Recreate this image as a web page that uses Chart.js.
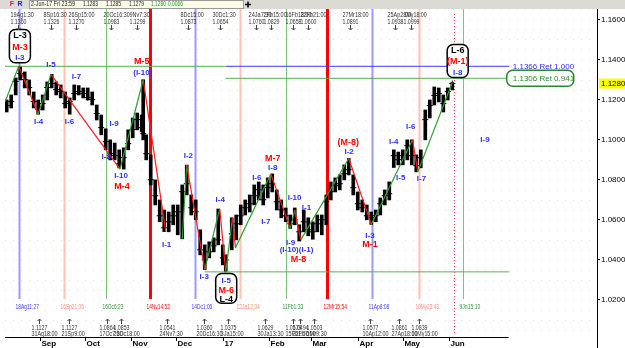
<!DOCTYPE html>
<html>
<head>
<meta charset="utf-8">
<script src="https://cdn.jsdelivr.net/npm/chart.js@4"></script>
<style>
  html, body { margin: 0; padding: 0; background: #fff; }
  #wrap { width: 625px; height: 348px; }
</style>
</head>
<body>
<div id="wrap"><canvas id="eurChart" width="625" height="348"></canvas></div>
<script>
// x values are days counted from 1 Aug 2016
var barDays = [9,12,15,18,21,24,27,30,33,36,
  39,42,45,48,51,54,57,60,63,66,
  69,72,75,78,81,84,87,90,93,96,
  99,100,102,105,108,111,114,117,120,123,
  126,129,132,135,138,141,144,147,150,153,
  155,159,162,165,168,171,174,177,180,183,
  186,189,192,195,198,201,204,207,210,213,
  216,219,222,225,228,231,234,237,240,243,
  246,249,252,255,258,261,264,267,270,273,
  276,279,282,285,288,291,294,297,300,303,
  306];
var barHigh = [1.1198,1.1223,1.1308,1.1366,1.1338,1.1298,1.1238,1.1198,1.1223,1.1288,
  1.1326,1.1288,1.1273,1.1238,1.1208,1.1273,1.1270,1.1258,1.1258,1.1238,
  1.1173,1.1123,1.1054,1.0999,1.0983,1.0949,1.0959,1.1049,1.1108,1.1133,
  1.1123,1.1299,1.1024,1.0924,1.0799,1.0699,1.0649,1.0639,1.0674,1.0674,
  1.0774,1.0873,1.0724,1.0699,1.0550,1.0475,1.0490,1.0510,1.0654,1.0475,
  1.0425,1.0610,1.0624,1.0674,1.0699,1.0724,1.0774,1.0789,1.0774,1.0809,
  1.0829,1.0749,1.0699,1.0659,1.0624,1.0659,1.0575,1.0649,1.0610,1.0590,
  1.0624,1.0624,1.0724,1.0789,1.0809,1.0824,1.0874,1.0906,1.0824,1.0739,
  1.0699,1.0674,1.0639,1.0649,1.0709,1.0749,1.0789,1.0949,1.0938,1.0949,
  1.0999,1.0999,1.0924,1.0949,1.1148,1.1198,1.1263,1.1258,1.1223,1.1258,
  1.1285];
var barLow = [1.1138,1.1158,1.1223,1.1298,1.1258,1.1223,1.1158,1.1127,1.1148,1.1198,
  1.1258,1.1223,1.1208,1.1158,1.1127,1.1198,1.1223,1.1208,1.1198,1.1173,
  1.1098,1.1024,1.0949,1.0899,1.0899,1.0859,1.0853,1.0949,1.1009,1.1049,
  1.1039,1.0999,1.0899,1.0774,1.0674,1.0590,1.0541,1.0540,1.0575,1.0525,
  1.0505,1.0724,1.0624,1.0600,1.0425,1.0352,1.0410,1.0440,1.0475,1.0375,
  1.0340,1.0450,1.0500,1.0575,1.0624,1.0639,1.0674,1.0699,1.0674,1.0709,
  1.0739,1.0649,1.0610,1.0590,1.0557,1.0575,1.0494,1.0540,1.0520,1.0503,
  1.0540,1.0525,1.0575,1.0699,1.0739,1.0749,1.0799,1.0824,1.0724,1.0649,
  1.0639,1.0600,1.0577,1.0590,1.0624,1.0674,1.0699,1.0861,1.0874,1.0874,
  1.0899,1.0874,1.0839,1.0859,1.0999,1.1108,1.1173,1.1188,1.1138,1.1198,
  1.1248];
var barClose = [1.1170,1.1190,1.1290,1.1330,1.1300,1.1260,1.1190,1.1150,1.1180,1.1260,
  1.1280,1.1250,1.1240,1.1180,1.1190,1.1230,1.1240,1.1230,1.1210,1.1200,
  1.1130,1.1060,1.0990,1.0930,1.0920,1.0880,1.0910,1.0980,1.1050,1.1100,
  1.1060,1.1030,1.0930,1.0800,1.0720,1.0620,1.0560,1.0590,1.0620,1.0640,
  1.0740,1.0780,1.0660,1.0640,1.0450,1.0400,1.0440,1.0470,1.0500,1.0410,
  1.0400,1.0530,1.0580,1.0620,1.0660,1.0680,1.0720,1.0750,1.0700,1.0760,
  1.0780,1.0690,1.0650,1.0620,1.0580,1.0600,1.0540,1.0590,1.0550,1.0540,
  1.0580,1.0600,1.0690,1.0740,1.0770,1.0780,1.0830,1.0850,1.0760,1.0680,
  1.0660,1.0620,1.0610,1.0620,1.0680,1.0720,1.0730,1.0920,1.0900,1.0920,
  1.0970,1.0920,1.0870,1.0910,1.1100,1.1170,1.1220,1.1230,1.1180,1.1240,
  1.1280];

// wave pivots (null = break in the line)
var waveDays = [8,17,30,38.5,84.5,100,115,120,126,129,141,151,155,159.5,161.5,185,198,201,205,237,252,279.5,283,306];
var wavePrices = [1.1190,1.1366,1.1127,1.1326,1.0853,1.1299,1.0541,null,1.0505,1.0873,1.0352,1.0654,1.0340,1.0610,1.0460,1.0829,1.0557,1.0649,1.0500,1.0906,1.0577,1.0999,1.0839,1.1285];

// horizontal levels
var levelPrices = [1.1366, 1.1366, 1.1306, 1.0340];
var levelFrom = [7.87, 155, 155, 141];
var levelTo = [155, 344, 342, 344];
var retTexts = ['1.1366 Ret 1.000', '1.1306 Ret 0.941'];
var retPrices = [1.1366, 1.1306];

// time markers
var markerDays = [17.1, 47.5, 75.3, 104.4, 134.8, 164.5, 194.9, 222.7, 252.7, 283.5, 313.2];
var markerLabels = ['18Ag11:27','16Sp21:05','16Oc6:23','14Nv14:52','14Dc1:06','12Ja12:34','11Fb1:33','12Mr15:54','11Ap8:08','10My23:43','9Jn15:10'];
var lastBarDay = 307.3;

// axis
var monthDays = [31,61,92,122,153,184,212,243,273,304];
var monthLabels = ['Sep','Oct','Nov','Dec','17','Feb','Mar','Apr','May','Jun'];
var priceTicks = [1.16,1.14,1.12,1.10,1.08,1.06,1.04,1.02];
var lastPrice = 1.1280;

// high / low notes
var topDays = [16.8,38.6,55.5,78.6,95.8,130.1,151.3,175.1,185,199.5,209.5,237.9,267.6,278.2];
var topTimes = ['19Ag1:30','8Sp16:30','26Sp15:00','20Oc16:30','9Nv7:30','8Dc15:00','30Dc1:30','24Ja7:30','2Fb15:00','16Fb18:00','22Fb21:00','27Mr18:00','25Ap2:00','8My18:00'];
var topPrices = ['1.1360','1.1326','1.1270','1.0983','1.1299','1.0873','1.0654','1.0760','1.0829','1.0658','1.0600','1.0891','1.0938','1.0999'];
var botDays = [30.3,50.8,75.9,85.2,115.6,140.7,156.6,181,199.5,204.8,214,251,270.3,283.5];
var botTimes = ['31Ag18:00','21Sp9:00','17Oc7:30','26Oc18:00','24Nv7:30','20Dc16:30','3Ja15:00','30Ja13:30','15Fb1:00','22Fb7:00','1Mr9:30','10Ap12:00','27Ap18:00','10My15:00'];
var botPrices = ['1.1127','1.1127','1.0864','1.0853','1.0541','1.0360','1.0375','1.0629','1.0579','1.0494','1.0503','1.0577','1.0861','1.0839'];

// wave labels
var labelTexts = ['L-3','M-3','I-3','I-5','I-4','I-6','I-7','I-9','I-8','I-10','M-4','M-5','(I-10)','I-2','I-1','I-3',
  'I-5','M-6','L-4','I-4','M-7','I-8','I-6','I-7','I-10','I-9','(I-10)(I-1)','M-8','I-1','(M-8)','I-2','I-3','M-1',
  'I-4','I-5','I-6','I-7','L-6','(M-1)','I-8','I-9'];
var labelDays = [17.8,17.8,17.8,38.5,30.3,50.8,55.5,80.6,75.3,85.2,85.9,99.0,99.7,130.1,115.6,140.7,
  155.3,155.3,155.3,151.3,186.3,186.3,175.7,181.7,200.9,198.2,202.2,203.5,208.8,236.6,237.2,251.1,251.1,
  267.0,271.6,278.3,285.5,309.6,309.6,309.6,327.8];
var labelPrices = [1.1518,1.1458,1.1408,1.1373,1.1088,1.1088,1.1313,1.1078,1.0913,1.0818,1.0768,1.1388,1.1333,1.0918,1.0475,1.0315,
  1.0295,1.0247,1.0202,1.0699,1.0908,1.0859,1.0809,1.0590,1.0709,1.0485,1.0450,1.0400,1.0660,1.0984,1.0939,1.0520,1.0475,
  1.0989,1.0809,1.1064,1.0804,1.1443,1.1388,1.1333,1.0998];

// rounded boxes around the L groups
var boxDays = [17.8, 155.3, 309.6];
var boxTop = [1.1550, 1.0332, 1.1475];
var boxBottom = [1.1384, 1.0183, 1.1310];

var markerColors = ['#9a9aff', '#ffc2b4', '#7cc27c', '#ff0000'];
var markerText = ['#3c3cff', '#ff8c78', '#2f932f', '#ff0000'];
var markerWidths = [2, 2, 1, 3];

function kindColor(t) {
  if (t.indexOf('L') === 0) return '#000000';
  if (t.indexOf('M') >= 0) return '#ff0000';
  return '#3030ff';
}

function txt(ctx, s, x, y, font, color, align, maxW) {
  ctx.font = font;
  ctx.fillStyle = color;
  ctx.textAlign = align || 'left';
  ctx.textBaseline = 'middle';
  if (maxW) ctx.fillText(s, x, y, maxW); else ctx.fillText(s, x, y);
}

function rrect(ctx, x, y, w, h, r) {
  ctx.beginPath();
  ctx.moveTo(x + r, y);
  ctx.arcTo(x + w, y, x + w, y + h, r);
  ctx.arcTo(x + w, y + h, x, y + h, r);
  ctx.arcTo(x, y + h, x, y, r);
  ctx.arcTo(x, y, x + w, y, r);
  ctx.closePath();
}

var overlay = {
  id: 'overlay',
  beforeDatasetsDraw: function(chart) {
    var ctx = chart.ctx, a = chart.chartArea, xs = chart.scales.x, ys = chart.scales.y;
    ctx.save();
    // faint dotted background
    ctx.strokeStyle = '#e2e2e2';
    ctx.lineWidth = 1;
    ctx.setLineDash([1, 7]);
    for (var p = 1.005; p < 1.165; p += 0.005) {
      var py = Math.round(ys.getPixelForValue(p)) + 0.5;
      ctx.beginPath(); ctx.moveTo(a.left, py); ctx.lineTo(a.right, py); ctx.stroke();
    }
    ctx.setLineDash([]);

    // vertical time markers
    markerDays.forEach(function(d, i) {
      var k = i % 4;
      var px = Math.round(xs.getPixelForValue(d)) + 0.5;
      ctx.strokeStyle = markerColors[k];
      ctx.lineWidth = markerWidths[k];
      ctx.beginPath(); ctx.moveTo(px, a.top); ctx.lineTo(px, a.bottom - 38); ctx.stroke();
      txt(ctx, markerLabels[i], px - 4, a.bottom - 30, '8px "Liberation Sans"', markerText[k], 'left', markerLabels[i].length * 2.6);
    });

    // dotted line at the last bar
    var lx = Math.round(xs.getPixelForValue(lastBarDay)) + 0.5;
    ctx.strokeStyle = '#ff4040';
    ctx.lineWidth = 1;
    ctx.setLineDash([1, 2]);
    ctx.beginPath(); ctx.moveTo(lx, a.top + 5); ctx.lineTo(lx, a.bottom - 4); ctx.stroke();
    ctx.setLineDash([]);
    ctx.restore();
  },
  afterDatasetsDraw: function(chart) {
    var ctx = chart.ctx, a = chart.chartArea, xs = chart.scales.x, ys = chart.scales.y;
    ctx.save();

    // boxes
    ctx.strokeStyle = '#000';
    ctx.lineWidth = 1.5;
    boxDays.forEach(function(d, i) {
      var cx = xs.getPixelForValue(d);
      var t = ys.getPixelForValue(boxTop[i]), b = ys.getPixelForValue(boxBottom[i]);
      ctx.fillStyle = '#fff';
      rrect(ctx, cx - 10.5, t, 21, b - t, 6);
      ctx.fill(); ctx.stroke();
    });

    // wave labels
    labelTexts.forEach(function(s, i) {
      var c = kindColor(s);
      var f = c === '#3030ff' ? 'bold 8px "Liberation Sans"' : 'bold 9px "Liberation Sans"';
      txt(ctx, s, xs.getPixelForValue(labelDays[i]), ys.getPixelForValue(labelPrices[i]), f, c, 'center');
    });

    // retracement labels
    var rx = xs.getPixelForValue(346.3);
    txt(ctx, retTexts[0], rx, ys.getPixelForValue(retPrices[0]), '8px "Liberation Sans"', '#2d2dff', 'left');
    var gy = ys.getPixelForValue(retPrices[1]);
    txt(ctx, retTexts[1], rx, gy, '8px "Liberation Sans"', '#2a8a2a', 'left');
    ctx.strokeStyle = '#2a8a2a';
    ctx.lineWidth = 1.5;
    rrect(ctx, rx - 6, gy - 8, 67, 16, 6);
    ctx.stroke();

    // high notes along the top
    ctx.strokeStyle = '#444';
    ctx.lineWidth = 1;
    topDays.forEach(function(d, i) {
      var px = Math.round(xs.getPixelForValue(d)) + 0.5;
      txt(ctx, topTimes[i], px - 8, 15, '7px "Liberation Sans"', '#333', 'left', topTimes[i].length * 2.9);
      txt(ctx, topPrices[i], px, 22, '7px "Liberation Sans"', '#333', 'center', 16);
      ctx.beginPath(); ctx.moveTo(px, 25); ctx.lineTo(px, 30);
      ctx.moveTo(px - 2, 28); ctx.lineTo(px, 30); ctx.lineTo(px + 2, 28); ctx.stroke();
    });
    // low notes along the bottom
    botDays.forEach(function(d, i) {
      var px = Math.round(xs.getPixelForValue(d)) + 0.5;
      ctx.beginPath(); ctx.moveTo(px, 324); ctx.lineTo(px, 319);
      ctx.moveTo(px - 2, 321); ctx.lineTo(px, 319); ctx.lineTo(px + 2, 321); ctx.stroke();
      txt(ctx, botPrices[i], px, 328, '7px "Liberation Sans"', '#333', 'center', 16);
      txt(ctx, botTimes[i], px - 8, 334, '7px "Liberation Sans"', '#333', 'left', botTimes[i].length * 2.9);
    });

    // bottom time axis
    var ax = xs.getPixelForValue(343.5);
    ctx.strokeStyle = '#000';
    ctx.lineWidth = 1;
    ctx.beginPath(); ctx.moveTo(a.left, a.bottom + 0.5); ctx.lineTo(ax, a.bottom + 0.5); ctx.stroke();
    monthDays.forEach(function(d, i) {
      var px = Math.round(xs.getPixelForValue(d)) + 0.5;
      ctx.beginPath(); ctx.moveTo(px, a.bottom); ctx.lineTo(px, a.bottom + 4); ctx.stroke();
      txt(ctx, monthLabels[i], px + 1, a.bottom + 7, 'bold 8px "Liberation Sans"', '#000', 'left');
    });
    // right axis line to the bottom edge
    ctx.beginPath(); ctx.moveTo(a.right + 0.5, 0); ctx.lineTo(a.right + 0.5, chart.height); ctx.stroke();

    // current price tag
    var cy = ys.getPixelForValue(lastPrice);
    ctx.fillStyle = '#ffff00';
    ctx.fillRect(a.right + 2, cy - 5, 26, 10);
    txt(ctx, lastPrice.toFixed(4), a.right + 4, cy, '8px "Liberation Sans"', '#000', 'left');

    // header strip
    ctx.fillStyle = '#dcdad5';
    ctx.fillRect(0, 0, chart.width, 9);
    txt(ctx, 'F', 12, 4.5, 'bold 7px "Liberation Sans"', '#e02020', 'center');
    txt(ctx, 'R', 20, 4.5, 'bold 7px "Liberation Sans"', '#2020c0', 'center');
    ctx.fillStyle = '#fbfbe8';
    ctx.fillRect(29, 1, 214, 7);
    ctx.strokeStyle = '#9a9a9a';
    ctx.strokeRect(29.5, 0.5, 214, 8);
    txt(ctx, '2-Jun-17 Fri 23:59', 31, 4.5, '6.5px "Liberation Sans"', '#222', 'left', 44);
    txt(ctx, '1.1283', 83, 4.5, '6.5px "Liberation Sans"', '#222', 'left', 15);
    txt(ctx, '1.1285', 106, 4.5, '6.5px "Liberation Sans"', '#222', 'left', 15);
    txt(ctx, '1.1279', 129, 4.5, '6.5px "Liberation Sans"', '#222', 'left', 15);
    txt(ctx, '1.1280', 151, 4.5, '6.5px "Liberation Sans"', '#2a9a2a', 'left', 15);
    txt(ctx, '0.0066', 168, 4.5, '6.5px "Liberation Sans"', '#2a9a2a', 'left', 15);
    ctx.strokeStyle = '#000';
    ctx.lineWidth = 1.5;
    ctx.beginPath(); ctx.moveTo(245, 4.5); ctx.lineTo(251, 4.5); ctx.moveTo(248, 1.5); ctx.lineTo(248, 7.5); ctx.stroke();
    ctx.restore();
  }
};

var wavePoints = waveDays.map(function(d, i) { return { x: d, y: wavePrices[i] }; });
var levelColors = ['#5aaa5a', '#3a3aff', '#5aaa5a', '#5aaa5a'];
var levelSets = levelPrices.map(function(p, i) {
  return {
    type: 'line',
    data: [{ x: levelFrom[i], y: p }, { x: levelTo[i], y: p }],
    borderColor: levelColors[i],
    borderWidth: 1,
    pointRadius: 0,
    order: 1
  };
});

var ctx = document.getElementById('eurChart').getContext('2d');
var eurChart = new Chart(ctx, {
  type: 'bar',
  data: {
    datasets: [{
      type: 'line',
      data: wavePoints,
      borderWidth: 1.2,
      pointRadius: 0,
      spanGaps: false,
      segment: {
        borderColor: function(c) { return c.p1.parsed.y > c.p0.parsed.y ? '#2e9e2e' : '#ff1a1a'; }
      },
      order: 0
    }, {
      type: 'bar',
      data: barDays.map(function(d, i) { return { x: d, y: [barLow[i], barHigh[i]] }; }),
      backgroundColor: '#000',
      barThickness: 3,
      order: 3
    }, {
      type: 'scatter',
      data: barDays.map(function(d, i) { return { x: d, y: barClose[i] }; }),
      pointStyle: 'cross',
      pointRadius: 3,
      borderColor: '#000',
      borderWidth: 1,
      order: 2
    }].concat(levelSets)
  },
  options: {
    responsive: false,
    animation: false,
    devicePixelRatio: 1,
    layout: { padding: { top: 9, right: 0, bottom: 11, left: 0 } },
    plugins: { legend: { display: false }, tooltip: { enabled: false } },
    scales: {
      x: { type: 'linear', min: 7.87, max: 402.45, offset: false, display: false },
      y: {
        type: 'linear',
        position: 'right',
        min: 1.0015,
        max: 1.1652,
        afterFit: function(s) { s.width = 28; },
        afterBuildTicks: function(s) { s.ticks = priceTicks.map(function(v) { return { value: v }; }); },
        ticks: {
          callback: function(v) { return Number(v).toFixed(4); },
          font: { size: 8, family: 'Liberation Sans' },
          color: '#000',
          padding: 1
        },
        grid: { drawOnChartArea: false, tickLength: 3, color: '#000' },
        border: { color: '#000' }
      }
    }
  },
  plugins: [overlay]
});
</script>
</body>
</html>
